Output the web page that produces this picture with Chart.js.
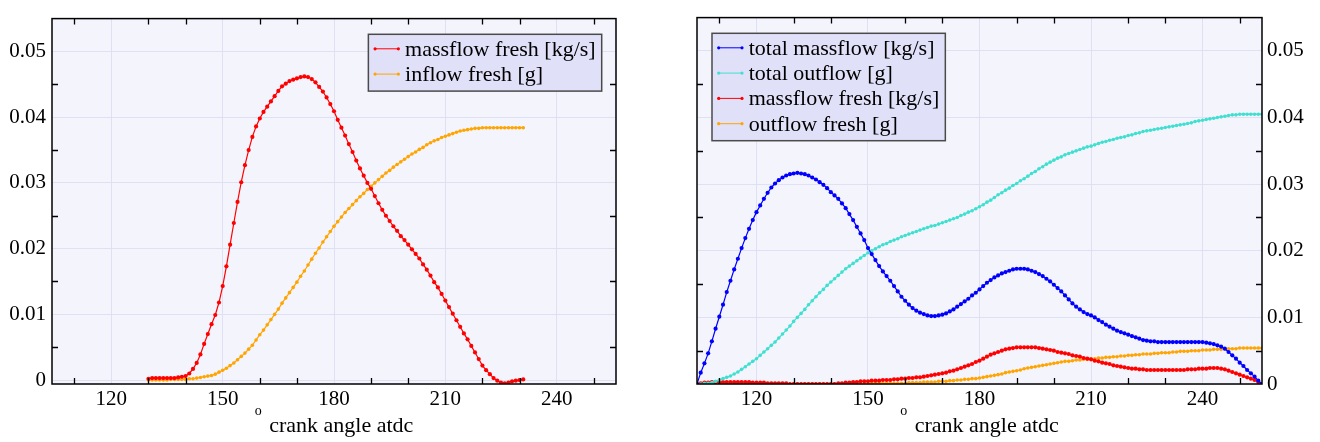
<!DOCTYPE html>
<html><head><meta charset="utf-8">
<script src="https://cdn.jsdelivr.net/npm/chart.js@4"></script>
<style>
html,body{margin:0;padding:0;background:#fff;}
#wrap{position:relative;width:1320px;height:442px;overflow:hidden;}
.c{position:absolute;top:0;width:660px;height:442px;}
</style></head><body>
<div id="wrap">
<div class="c" style="left:0"><canvas id="cL" width="660" height="442"></canvas></div>
<div class="c" style="left:660px"><canvas id="cR" width="660" height="442"></canvas></div>
</div>
<script>
// ---------- data ----------
const leftAngles = [
130,131,132,133,134,135,136,137,138,139,
140,141,142,143,144,145,146,147,148,149,
150,151,152,153,154,155,156,157,158,159,
160,161,162,163,164,165,166,167,168,169,
170,171,172,173,174,175,176,177,178,179,
180,181,182,183,184,185,186,187,188,189,
190,191,192,193,194,195,196,197,198,199,
200,201,202,203,204,205,206,207,208,209,
210,211,212,213,214,215,216,217,218,219,
220,221,222,223,224,225,226,227,228,229,
230,231];
const leftMassflowFresh = [
.0002,.0003,.0003,.0003,.0003,.0003,.0003,.0003,.0004,.0005,
.0006,.0010,.0017,.0026,.0039,.0055,.0070,.0085,.0099,.0118,
.0143,.0173,.0206,.0239,.0271,.0301,.0327,.0350,.0370,.0386,
.0398,.0408,.0416,.0424,.0432,.0440,.0447,.0451,.0455,.0457,
.0459,.0461,.0462,.0461,.0458,.0453,.0446,.0439,.0430,.0420,
.0409,.0396,.0384,.0372,.0359,.0347,.0334,.0322,.0311,.0300,
.0291,.0280,.0269,.0259,.0250,.0242,.0234,.0227,.0219,.0213,
.0206,.0199,.0192,.0185,.0176,.0168,.0159,.0149,.0141,.0131,
.0121,.0111,.0101,.0091,.0081,.0071,.0062,.0052,.0042,.0032,
.0022,.0015,.0009,.0003,-.0001,-.0004,-.0005,-.0004,-.0002,-.0001,
.0000,.0001];
const leftInflowFresh = [
0,0,0,0,0,0,.0001,.0001,.0001,.0001,
.0001,.0002,.0002,.0003,.0004,.0005,.0006,.0007,.0009,.0012,
.0015,.0018,.0022,.0026,.0031,.0036,.0041,.0047,.0053,.0061,
.0069,.0076,.0084,.0092,.0100,.0108,.0117,.0125,.0133,.0141,
.0149,.0158,.0166,.0175,.0184,.0193,.0201,.0210,.0218,.0226,
.0234,.0241,.0248,.0255,.0261,.0267,.0273,.0279,.0284,.0290,
.0295,.0300,.0305,.0310,.0315,.0319,.0324,.0328,.0332,.0336,
.0340,.0344,.0347,.0351,.0354,.0358,.0361,.0364,.0366,.0369,
.0371,.0373,.0375,.0377,.0379,.0380,.0381,.0382,.0383,.0383,
.0384,.0384,.0384,.0384,.0384,.0384,.0384,.0384,.0384,.0384,
.0384,.0384];

const rightAngles = [
104,105,106,107,108,109,110,111,112,113,
114,115,116,117,118,119,120,121,122,123,
124,125,126,127,128,129,130,131,132,133,
134,135,136,137,138,139,140,141,142,143,
144,145,146,147,148,149,150,151,152,153,
154,155,156,157,158,159,160,161,162,163,
164,165,166,167,168,169,170,171,172,173,
174,175,176,177,178,179,180,181,182,183,
184,185,186,187,188,189,190,191,192,193,
194,195,196,197,198,199,200,201,202,203,
204,205,206,207,208,209,210,211,212,213,
214,215,216,217,218,219,220,221,222,223,
224,225,226,227,228,229,230,231,232,233,
234,235,236,237,238,239,240,241,242,243,
244,245,246,247,248,249,250,251,252,253,
254,255,256];
const rightTotalMassflow = [
0,.0017,.0031,.0046,.0064,.0083,.0101,.0119,.0138,.0155,
.0172,.0188,.0204,.0219,.0233,.0246,.0258,.0268,.0278,.0287,
.0295,.0301,.0306,.0310,.0313,.0315,.0316,.0317,.0316,.0315,
.0313,.0310,.0307,.0303,.0299,.0294,.0288,.0283,.0278,.0271,
.0264,.0255,.0246,.0236,.0226,.0216,.0204,.0195,.0186,.0177,
.0169,.0162,.0155,.0147,.0139,.0131,.0125,.0119,.0114,.0110,
.0107,.0105,.0103,.0102,.0102,.0103,.0104,.0106,.0109,.0112,
.0116,.0120,.0124,.0128,.0133,.0137,.0142,.0147,.0152,.0156,
.0160,.0163,.0166,.0168,.0170,.0172,.0173,.0173,.0173,.0172,
.0170,.0168,.0165,.0162,.0158,.0154,.0149,.0144,.0139,.0133,
.0127,.0121,.0116,.0112,.0108,.0105,.0103,.0100,.0096,.0093,
.0089,.0086,.0083,.0080,.0078,.0076,.0074,.0072,.0070,.0068,
.0066,.0065,.0064,.0064,.0063,.0063,.0063,.0063,.0063,.0063,
.0063,.0063,.0063,.0063,.0063,.0063,.0063,.0062,.0061,.0060,
.0058,.0056,.0053,.0048,.0043,.0038,.0032,.0027,.0021,.0016,
.0011,.0005,0];
const rightTotalOutflow = [
0,0,.0001,.0001,.0002,.0004,.0006,.0008,.0010,.0012,
.0015,.0018,.0022,.0026,.0030,.0034,.0038,.0043,.0048,.0053,
.0058,.0063,.0069,.0075,.0081,.0087,.0094,.0100,.0106,.0112,
.0119,.0125,.0131,.0137,.0142,.0148,.0153,.0158,.0163,.0168,
.0173,.0177,.0181,.0185,.0189,.0193,.0197,.0200,.0203,.0206,
.0209,.0211,.0214,.0216,.0218,.0221,.0223,.0225,.0227,.0229,
.0231,.0233,.0235,.0237,.0238,.0240,.0242,.0244,.0246,.0248,
.0250,.0253,.0255,.0258,.0260,.0263,.0266,.0269,.0273,.0276,
.0280,.0284,.0287,.0291,.0294,.0298,.0301,.0305,.0308,.0312,
.0316,.0319,.0323,.0326,.0330,.0333,.0336,.0339,.0341,.0344,
.0346,.0348,.0350,.0352,.0354,.0356,.0357,.0359,.0361,.0363,
.0364,.0366,.0367,.0369,.0370,.0371,.0373,.0374,.0376,.0377,
.0379,.0380,.0381,.0382,.0383,.0384,.0385,.0386,.0387,.0388,
.0389,.0390,.0391,.0392,.0394,.0395,.0396,.0397,.0398,.0399,
.0400,.0401,.0402,.0403,.0404,.0404,.0405,.0405,.0405,.0405,
.0405,.0405,.0405];
const rightMassflowFresh = [
0,.0001,.0002,.0002,.0003,.0003,.0003,.0003,.0003,.0003,
.0003,.0003,.0003,.0003,.0003,.0002,.0002,.0002,.0002,.0001,
.0001,.0001,.0001,.0001,.0001,0,0,0,0,0,
0,0,0,0,0,0,0,0,.0001,.0001,
.0002,.0002,.0003,.0003,.0004,.0004,.0004,.0005,.0005,.0005,
.0006,.0006,.0006,.0007,.0007,.0008,.0008,.0009,.0009,.0010,
.0010,.0011,.0012,.0013,.0014,.0015,.0016,.0017,.0019,.0020,
.0022,.0024,.0026,.0028,.0030,.0033,.0035,.0038,.0041,.0044,
.0046,.0048,.0050,.0052,.0053,.0054,.0055,.0055,.0055,.0055,
.0055,.0055,.0054,.0053,.0052,.0051,.0050,.0048,.0047,.0046,
.0045,.0043,.0042,.0041,.0039,.0038,.0037,.0035,.0034,.0032,
.0031,.0030,.0028,.0027,.0026,.0025,.0024,.0023,.0023,.0022,
.0022,.0021,.0021,.0021,.0021,.0021,.0021,.0021,.0021,.0021,
.0021,.0021,.0022,.0022,.0022,.0023,.0023,.0023,.0024,.0024,
.0024,.0023,.0022,.0020,.0018,.0016,.0014,.0012,.0010,.0008,
.0006,.0003,0];
const rightOutflowFresh = [
0,0,0,0,0,0,0,0,0,0,
0,0,0,0,0,0,0,0,0,0,
0,0,0,0,0,0,0,0,0,0,
0,0,0,0,0,0,0,0,0,0,
0,0,0,0,0,0,0,.0001,.0001,.0001,
.0001,.0001,.0001,.0001,.0001,.0001,.0001,.0002,.0002,.0002,
.0002,.0003,.0003,.0003,.0003,.0004,.0004,.0004,.0005,.0005,
.0006,.0006,.0007,.0007,.0008,.0008,.0009,.0010,.0011,.0012,
.0013,.0014,.0015,.0017,.0018,.0019,.0020,.0021,.0023,.0024,
.0025,.0026,.0027,.0028,.0029,.0030,.0031,.0032,.0033,.0034,
.0034,.0035,.0036,.0036,.0037,.0037,.0038,.0038,.0039,.0039,
.0040,.0040,.0041,.0041,.0042,.0042,.0043,.0043,.0044,.0044,
.0045,.0045,.0045,.0046,.0046,.0047,.0047,.0047,.0048,.0048,
.0049,.0049,.0049,.0050,.0050,.0050,.0051,.0051,.0051,.0052,
.0052,.0052,.0053,.0053,.0053,.0053,.0054,.0054,.0054,.0054,
.0054,.0054,.0054];

const xTickValues  = [110,120,130,140,150,160,170,180,190,200,210,220,230,240,250];
const xLabelValues = [120,150,180,210,240];
const yTickValues  = [0,0.005,0.01,0.015,0.02,0.025,0.03,0.035,0.04,0.045,0.05];
const yLabelValues = [0,0.01,0.02,0.03,0.04,0.05];
const axisTitleSup  = 'o';
const axisTitleText = 'crank angle atdc';

// ---------- styles ----------
const SERIF = '"Liberation Serif","Times New Roman","DejaVu Serif",serif';
const PLOT_BG = '#f4f4fd';
const GRID = '#e0e0f5';
const LEG_BG = '#e0e0f9';
const LEG_BORDER = '#4a4a4a';
const RED = '#ff0000', ORANGE = '#ffa500', BLUE = '#0000ff', TURQ = '#40e0d0';

function pts(xs, ys){ return xs.map((x,i)=>({x:x, y:ys[i]})); }
function ds(label, xs, ys, color, r){
  return {label, data: pts(xs,ys), borderColor: color, backgroundColor: color,
    pointBackgroundColor: color, pointBorderColor: color, pointBorderWidth: 0,
    pointRadius: r, pointHoverRadius: r, borderWidth: 1.2, tension: 0, fill: false};
}

const framePlugin = {
  id: 'frame',
  beforeDraw(chart){
    const {ctx, chartArea:a} = chart;
    ctx.save(); ctx.fillStyle = PLOT_BG;
    ctx.fillRect(a.left, a.top, a.right-a.left, a.bottom-a.top);
    ctx.restore();
  },
  afterDraw(chart){
    const {ctx, chartArea:a} = chart;
    const sx = chart.scales.x, sy = chart.scales.y;
    const o = chart.options.plugins.frame;
    ctx.save();
    // minor tick marks (inward)
    ctx.strokeStyle = '#000'; ctx.lineWidth = 1.3;
    const L = 6;
    ctx.beginPath();
    xTickValues.forEach(v => {
      if (xLabelValues.includes(v)) return;
      const px = Math.round(sx.getPixelForValue(v)) + 0.5;
      ctx.moveTo(px, a.bottom); ctx.lineTo(px, a.bottom - L);
      ctx.moveTo(px, a.top); ctx.lineTo(px, a.top + L);
    });
    yTickValues.forEach(v => {
      if (yLabelValues.includes(v)) return;
      const py = Math.round(sy.getPixelForValue(v)) + 0.5;
      ctx.moveTo(a.left, py); ctx.lineTo(a.left + L, py);
      ctx.moveTo(a.right, py); ctx.lineTo(a.right - L, py);
    });
    ctx.stroke();
    // frame
    ctx.lineWidth = 1.5;
    ctx.strokeRect(a.left, a.top, a.right-a.left, a.bottom-a.top);

    // legend box
    const fs = 22, rowH = 25.3, padTop = 14.5, padBot = 17;
    ctx.font = fs + 'px ' + SERIF;
    const dsets = chart.data.datasets;
    let maxW = 0;
    dsets.forEach(d => { maxW = Math.max(maxW, ctx.measureText(d.label).width); });
    const bw = 36.7 + maxW + 6;
    const bh = padTop + rowH*(dsets.length-1) + padBot;
    const bx = o.legendSide === 'right' ? a.right - 14.3 - bw : a.left + 15;
    const by = a.top + 15.7;
    ctx.fillStyle = LEG_BG; ctx.fillRect(bx, by, bw, bh);
    ctx.strokeStyle = LEG_BORDER; ctx.lineWidth = 1.5; ctx.strokeRect(bx, by, bw, bh);
    dsets.forEach((d, i) => {
      const cy = by + padTop + i*rowH;
      ctx.strokeStyle = d.borderColor; ctx.lineWidth = 1;
      ctx.beginPath(); ctx.moveTo(bx+6.7, cy); ctx.lineTo(bx+30, cy); ctx.stroke();
      ctx.fillStyle = d.borderColor;
      [bx+6.7, bx+30].forEach(px => { ctx.beginPath(); ctx.arc(px, cy, 1.6, 0, Math.PI*2); ctx.fill(); });
      ctx.fillStyle = '#000'; ctx.textAlign = 'left'; ctx.textBaseline = 'alphabetic';
      ctx.fillText(d.label, bx + 36.7, cy + 7);
    });

    // axis title with raised small "o"
    ctx.fillStyle = '#000'; ctx.textAlign = 'left'; ctx.textBaseline = 'alphabetic';
    ctx.font = '22px ' + SERIF; const wMain = ctx.measureText(axisTitleText).width;
    ctx.font = '14px ' + SERIF; const wSup = ctx.measureText(axisTitleSup).width;
    const gap = 7.5;
    const x0 = (a.left + a.right)/2 - (wSup + gap + wMain)/2;
    ctx.fillText(axisTitleSup, x0, 415);
    ctx.font = '22px ' + SERIF;
    ctx.fillText(axisTitleText, x0 + wSup + gap, 431.5);
    ctx.restore();
  }
};

function xScale(){
  return {
    type: 'linear', position: 'bottom', min: 104, max: 256,
    afterBuildTicks: s => { s.ticks = xTickValues.map(v => ({value: v})); },
    afterFit: s => { s.height = 58; },
    grid: { drawTicks: false, lineWidth: 1,
      color: c => (c.tick && xLabelValues.includes(c.tick.value)) ? GRID : 'rgba(0,0,0,0)' },
    border: { display: false },
    ticks: { autoSkip: false, maxRotation: 0, minRotation: 0, padding: 3, color: '#000',
      font: { family: SERIF, size: 21 },
      callback: v => xLabelValues.includes(v) ? String(v) : '' }
  };
}
function yScale(pos, min, width, pad){
  return {
    type: 'linear', position: pos, min: min, max: 0.055,
    afterBuildTicks: s => { s.ticks = yTickValues.map(v => ({value: v})); },
    afterFit: s => { s.width = width; },
    grid: { drawTicks: false, lineWidth: 1,
      color: c => (c.tick && yLabelValues.includes(c.tick.value)) ? GRID : 'rgba(0,0,0,0)' },
    border: { display: false },
    ticks: { autoSkip: false, padding: pad, color: '#000',
      font: { family: SERIF, size: 21 },
      callback: v => yLabelValues.includes(v) ? (v === 0 ? '0' : String(v)) : '' }
  };
}

const common = {
  responsive: false, animation: false, events: [],
  plugins: { legend: { display: false }, tooltip: { enabled: false } }
};

new Chart(document.getElementById('cL'), {
  type: 'line',
  data: { datasets: [
    ds('massflow fresh [kg/s]', leftAngles, leftMassflowFresh, RED, 2.1),
    ds('inflow fresh [g]', leftAngles, leftInflowFresh, ORANGE, 1.8)
  ]},
  options: Object.assign({}, common, {
    layout: { padding: { left: 0, right: 44, top: 8, bottom: 0 } },
    scales: { x: xScale(), y: yScale('left', -0.0006, 52, 6) },
    plugins: Object.assign({}, common.plugins, { frame: { legendSide: 'right' } })
  }),
  plugins: [framePlugin]
});

new Chart(document.getElementById('cR'), {
  type: 'line',
  data: { datasets: [
    ds('total massflow [kg/s]', rightAngles, rightTotalMassflow, BLUE, 2.1),
    ds('total outflow [g]', rightAngles, rightTotalOutflow, TURQ, 1.8),
    ds('massflow fresh [kg/s]', rightAngles, rightMassflowFresh, RED, 2.1),
    ds('outflow fresh [g]', rightAngles, rightOutflowFresh, ORANGE, 1.8)
  ]},
  options: Object.assign({}, common, {
    layout: { padding: { left: 37, right: 0, top: 8, bottom: 0 } },
    scales: { x: xScale(), y: yScale('right', 0, 58, 5) },
    plugins: Object.assign({}, common.plugins, { frame: { legendSide: 'left' } })
  }),
  plugins: [framePlugin]
});
</script>
</body></html>
